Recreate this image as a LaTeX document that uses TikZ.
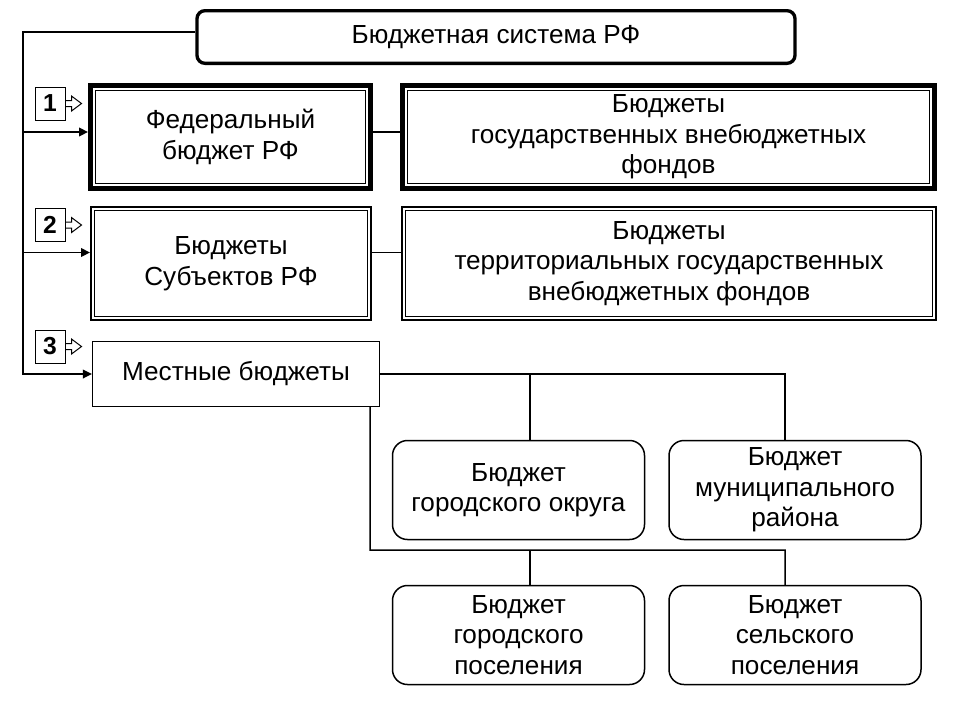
\documentclass[tikz,border=0pt]{standalone}
\usepackage{fontspec}
\setmainfont{Liberation Sans}
\usepackage{tikz}
\usetikzlibrary{arrows.meta}

\tikzset{
  txt/.style={font=\fontsize{22.3pt}{26pt}\selectfont, align=center},
  heavybox/.style={txt, draw, line width=1.5mm, minimum height=30.9mm},
  framebox/.style={txt, draw, line width=0.6mm, minimum height=33.9mm},
  plainbox/.style={txt, draw, line width=0.45mm},
  roundbox/.style={txt, draw, line width=0.45mm, rounded corners=4.5mm,
    minimum width=75.6mm, minimum height=29.7mm},
  badge/.style={draw, line width=0.3mm, minimum width=9mm, minimum height=9.9mm,
    inner sep=0pt, font=\fontsize{21pt}{24pt}\selectfont\bfseries},
  link/.style={line width=0.45mm},
  arr/.style={link, -{Triangle[length=2.7mm, width=2.6mm]}},
  pointer/.style={line width=0.3mm, line join=miter},
  inner/.style={line width=0.35mm}
}

\begin{document}
\begin{tikzpicture}[x=0.3mm, y=-0.3mm]
\useasboundingbox (0,0) rectangle (960,720);

% head of the system
\node[txt, draw, line width=1mm, rounded corners=2.4mm, minimum width=179.4mm,
  minimum height=15.8mm] (sys) at (496,37) {Бюджетная система РФ};

% level 1
\node[heavybox, minimum width=84mm]    (fed)  at (230.5,137) {Федеральный\\бюджет РФ};
\node[heavybox, minimum width=159.6mm] (fund) at (668.5,137) {Бюджеты\\государственных внебюджетных\\фондов};

% level 2
\node[framebox, minimum width=84mm]    (subj)  at (231,263.5) {Бюджеты\\Субъектов РФ};
\node[framebox, minimum width=160.2mm] (tfund) at (669,263.5) {Бюджеты\\территориальных государственных\\внебюджетных фондов};

% level 3
\node[plainbox, minimum width=86mm, minimum height=19.4mm] (loc) at (236,374) {Местные бюджеты};

\node[roundbox] (gok)  at (518.5,490) {Бюджет\\городского округа};
\node[roundbox] (mun)  at (795,490)   {Бюджет\\муниципального\\района};
\node[roundbox] (gpos) at (518.5,635) {Бюджет\\городского\\поселения};
\node[roundbox] (spos) at (795,635)   {Бюджет\\сельского\\поселения};

% inner lines of the framed boxes
\foreach \b/\d in {fed/2.25mm, fund/2.25mm, subj/1.35mm, tfund/1.35mm}
  \draw[inner] ([shift={(\d,\d)}]\b.south west) rectangle ([shift={(-\d,-\d)}]\b.north east);

% level numbers
\foreach \n/\y in {1/103.5, 2/225, 3/346.5} {
  \node[badge] (num\n) at (50,\y) {\n};
  \draw[pointer] (num\n.east) ++(0,-3) -- ++(6,0) -- ++(0,-4.5) -- ++(10,7.5)
    -- ++(-10,7.5) -- ++(0,-4.5) -- ++(-6,0);
}

% trunk on the left
\coordinate (trunk) at (23,0);
\coordinate (fedin)  at ([yshift=1.5mm]fed.west);
\coordinate (subjin) at ([yshift=3.3mm]subj.west);

\draw[arr] ([yshift=1.5mm]sys.west) -| (trunk |- loc.west) -- (loc.west);
\draw[arr] (trunk |- fedin) -- (fedin);
\draw[arr] (trunk |- subjin) -- (subjin);

\draw[link] (fedin -| fed.east) -- (fedin -| fund.west);
\draw[link] (subjin -| subj.east) -- (subjin -| tfund.west);

% local budgets
\coordinate (upL) at ([xshift=3.5mm]gok.north);
\coordinate (upR) at ([xshift=-3mm]mun.north);
\coordinate (loL) at ([xshift=3.5mm]gpos.north);
\coordinate (loR) at ([xshift=-3mm]spos.north);
\coordinate (down) at ([xshift=-3mm]loc.south east);
\coordinate (bus) at (785,550);

\draw[link] (loc.east) -| (upR);
\draw[link] (upL) -- (upL |- loc.east);
\draw[link] (down) |- (bus) -- (loR);
\draw[link] (loL) -- (loL |- bus);
\end{tikzpicture}
\end{document}
